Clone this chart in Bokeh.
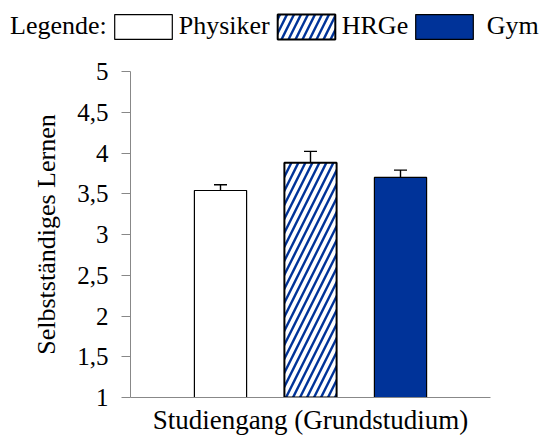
from bokeh.plotting import figure
from bokeh.models import (ColumnDataSource, Range1d, FixedTicker, Whisker, TeeHead,
                          Legend, LegendItem)
from bokeh.layouts import column
from bokeh.embed import file_html
from bokeh.resources import INLINE
import numpy as np

# ---- data ----
categories = ["Physiker", "HRGe", "Gym"]
means = [3.54, 3.88, 3.70]
errors = [0.07, 0.14, 0.09]
y_ticks = [1, 1.5, 2, 2.5, 3, 3.5, 4, 4.5, 5]
y_tick_labels = ["1", "1,5", "2", "2,5", "3", "3,5", "4", "4,5", "5"]
legend_title = "Legende:"

# ---- styles ----
BLUE = "#003399"
fill_colors = ["white", "white", BLUE]
hatch_patterns = [" ", "/", " "]
line_widths = [1.2, 2.0, 1.2]
FONT = "Liberation Serif"
HATCH = dict(hatch_color=BLUE, hatch_weight=2.4, hatch_scale=14)

x = list(np.arange(1, len(categories) + 1))
upper = [m + e for m, e in zip(means, errors)]
src = ColumnDataSource(dict(x=x, top=means, upper=upper, fill=fill_colors,
                            hatch=hatch_patterns, lw=line_widths, cat=categories))

# ---- legend strip (own figure, frame covers the whole strip) ----
LEG_H = 50
lg = figure(width=542, height=LEG_H, output_backend="svg", toolbar_location=None,
            x_axis_location=None, y_axis_location=None,
            x_range=Range1d(0, 1), y_range=Range1d(0, 1),
            min_border=0, min_border_left=0, min_border_right=0,
            min_border_top=0, min_border_bottom=0)
lg.outline_line_color = None
lg.grid.visible = False
lg.background_fill_color = "white"
lg.border_fill_color = "white"

caption_r = lg.scatter(x=[], y=[], size=0, fill_alpha=0, line_alpha=0)
key_r = lg.vbar(x="x", top="top", bottom=1, width=0.58, source=src,
                fill_color="fill", line_color="black", line_width="lw",
                hatch_pattern="hatch", visible=False, **HATCH)

items = [LegendItem(label=legend_title, renderers=[caption_r])]
items += [LegendItem(label=(" " + c if i == len(categories) - 1 else c),
                     renderers=[key_r], index=i) for i, c in enumerate(categories)]
legend = Legend(items=items, orientation="horizontal", location=(-62, 8.5),
                glyph_width=72, glyph_height=31, label_height=31,
                label_standoff=0, spacing=0, padding=0, margin=0,
                border_line_color=None, background_fill_alpha=0,
                inactive_fill_alpha=0,
                label_text_font=FONT, label_text_font_size="26px",
                label_text_color="black")
lg.add_layout(legend)

# ---- main chart ----
p = figure(width=542, height=437 - LEG_H, output_backend="svg", toolbar_location=None,
           x_range=Range1d(0, len(categories) + 1), y_range=Range1d(1, 5),
           min_border_left=130, min_border_right=52, min_border_top=71 - LEG_H,
           min_border_bottom=39)
p.outline_line_color = None
p.grid.grid_line_color = None
p.background_fill_color = "white"
p.border_fill_color = "white"

for fig in (lg, p):
    try:
        fig.frame_align = False
    except Exception:
        pass

r = p.vbar(x="x", top="top", bottom=1, width=0.58, source=src,
           fill_color="fill", line_color="black", line_width="lw",
           hatch_pattern="hatch", **HATCH)

w = Whisker(base="x", lower="top", upper="upper", source=src,
            line_color="black", line_width=1.4,
            upper_head=TeeHead(size=13, line_color="black", line_width=1.4),
            lower_head=None)
p.add_layout(w)

ax = p.yaxis[0]
ax.ticker = FixedTicker(ticks=y_ticks)
ax.major_label_overrides = {t: l for t, l in zip(y_ticks, y_tick_labels)}
ax.minor_tick_line_color = None
ax.major_tick_in = 0
ax.major_tick_out = 9
ax.major_label_standoff = 13
ax.axis_line_color = "#888888"
ax.major_tick_line_color = "#888888"
ax.major_label_text_font = FONT
ax.major_label_text_font_size = "25px"
ax.major_label_text_color = "black"
ax.axis_label = "Selbstständiges Lernen"
ax.axis_label_text_font = FONT
ax.axis_label_text_font_size = "26px"
ax.axis_label_text_font_style = "normal"
ax.axis_label_text_color = "black"
ax.axis_label_standoff = 13

bx = p.xaxis[0]
bx.ticker = FixedTicker(ticks=[])
bx.minor_tick_line_color = None
bx.major_tick_in = 0
bx.major_tick_out = 0
bx.major_label_standoff = 0
bx.axis_line_color = "#888888"
bx.axis_label = "Studiengang (Grundstudium)"
bx.axis_label_text_font = FONT
bx.axis_label_text_font_size = "27px"
bx.axis_label_text_font_style = "normal"
bx.axis_label_text_color = "black"
bx.axis_label_standoff = 7

layout = column(lg, p, spacing=0)
open("out.html", "w").write(file_html(layout, INLINE))
